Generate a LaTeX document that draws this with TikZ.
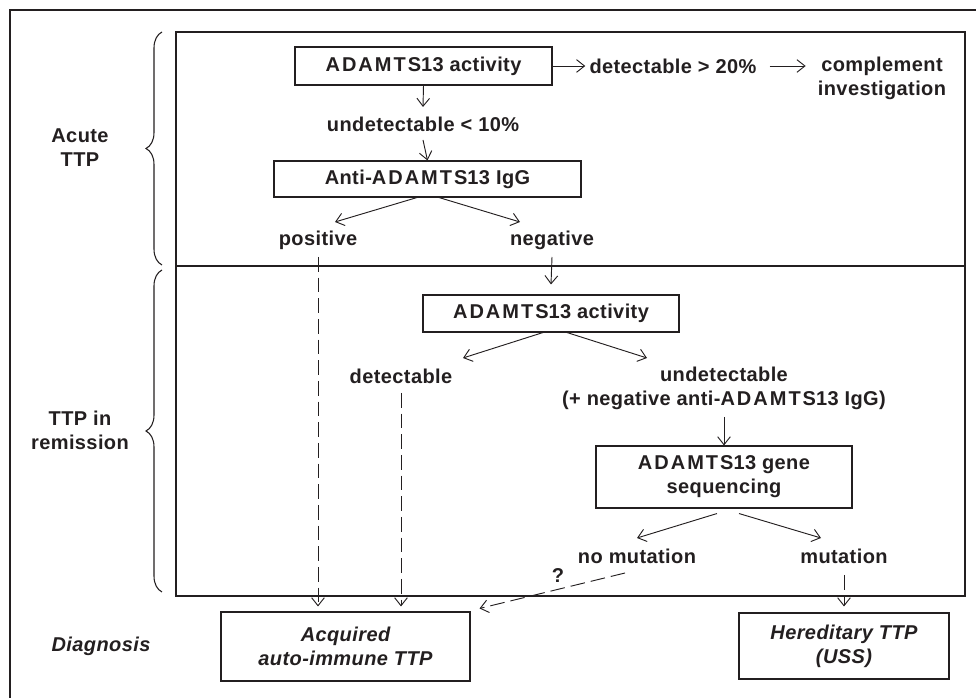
\documentclass[tikz,border=0pt]{standalone}
\usepackage{fontspec}
\setmainfont{Liberation Sans}[LetterSpace=2]
\newfontfamily\capsp{Liberation Sans}[LetterSpace=10]
\newcommand{\ADM}{{\capsp ADAMTS}13}
\usetikzlibrary{arrows.meta,calc,decorations.pathreplacing}
\definecolor{ink}{RGB}{35,31,32}
\begin{document}
\begin{tikzpicture}[x=0.75pt,y=-0.75pt,
  every node/.style={font=\fontsize{15}{18}\selectfont\bfseries, text=ink, inner sep=0pt},
  lab/.style={align=center},
  boxnode/.style={draw=ink, line width=0.8pt, align=center},
  arr/.style={draw=ink, line width=0.7pt, -{Straight Barb[length=6pt,width=9.5pt]}},
  darr/.style={arr, dash pattern=on 11pt off 4.5pt},
  brc/.style={draw=ink, line width=0.8pt, decorate, decoration={brace, amplitude=12pt}}]
\useasboundingbox (0,0) rectangle (976,698);
% frames
\draw[ink, line width=1.6pt] (10,698) -- (10,10) -- (976,10);
\draw[ink, line width=0.9pt] (176,32) rectangle (965,596);
\draw[ink, line width=1.5pt] (176,266) -- (965,266);
\draw[brc] (162,265) -- (162,32);
\draw[brc] (162,592) -- (162,270);
% side labels
\node[lab] (acute) at (80,148) {Acute\\TTP};
\node[lab] (remis) at (80,430) {TTP in\\remission};
\node[font=\fontsize{15}{18}\selectfont\bfseries\itshape] (diag) at (101,646) {Diagnosis};
% nodes
\node[boxnode, minimum width=192.75pt, minimum height=28.5pt] (b1) at (423.5,66) {\ADM{} activity};
\node (det20) at (673,66) {detectable > 20\%};
\node[lab] (compl) at (882,78) {complement\\investigation};
\node (u10) at (423,124) {undetectable < 10\%};
\node[boxnode, minimum width=230.25pt, minimum height=27pt] (b2) at (427.5,179) {Anti-\ADM{} IgG};
\node (pos) at (318,240) {positive};
\node (neg) at (552,240) {negative};
\node[boxnode, minimum width=192pt, minimum height=27.75pt] (b3) at (551,313.5) {\ADM{} activity};
\node (det) at (401,376) {detectable};
\node[lab] (undet) at (724,388) {undetectable\\(+ negative anti-\ADM{} IgG)};
\node[boxnode, minimum width=192pt, minimum height=46.5pt] (b4) at (724,477) {\ADM{} gene\\sequencing};
\node (nomut) at (637,556) {no mutation};
\node (mut) at (844,556) {mutation};
\node (q) at (558,576) {?};
\node[boxnode, minimum width=186.75pt, minimum height=51.75pt, font=\fontsize{15}{18}\selectfont\bfseries\itshape] (acq) at (345.5,646.5) {Acquired\\auto-immune TTP};
\node[boxnode, minimum width=157.5pt, minimum height=49.5pt, font=\fontsize{15}{18}\selectfont\bfseries\itshape] (her) at (844,646) {Hereditary TTP\\(USS)};
% connectors
\draw[arr, shorten >=3pt] (b1.east) -- (det20.west);
\draw[arr, shorten <=9.75pt, shorten >=9pt] (det20.east) -- (compl.west |- det20.east);
\draw[arr] (b1.south) -- ($(u10)+(0,-17)$);
\draw[arr] ($(u10)+(0,16)$) -- (b2.north);
\draw[arr] ($(b2.south)+(-10.5,0)$) -- ($(pos)+(17,-18)$);
\draw[arr] ($(b2.south)+(11.5,0)$) -- ($(neg)+(-32,-18)$);
\draw[arr] ($(neg)+(0,17)$) -- ($(b3.north)+(0,-10)$);
\draw[darr, shorten >=3.75pt] ($(pos)+(0,17)$) -- (pos |- acq.north);
\draw[arr] ($(b3.south)+(-8,0)$) -- ($(det)+(62,-18)$);
\draw[arr] ($(b3.south)+(16,0)$) -- ($(undet)+(-77,-30)$);
\draw[darr, shorten >=3.75pt] ($(det)+(0,17)$) -- (det |- acq.north);
\draw[arr] ($(undet)+(0,29)$) -- (b4.north);
\draw[arr] ($(b4.south)+(-7,5)$) -- ($(nomut)+(0,-18)$);
\draw[arr] ($(b4.south)+(15,5)$) -- ($(mut)+(-23,-18)$);
\draw[darr] ($(nomut)+(-12,17)$) -- ($(acq.north east)+(9,-3)$);
\draw[darr, shorten >=4.5pt] ($(mut)+(0,19)$) -- (mut |- her.north);
\end{tikzpicture}
\end{document}
